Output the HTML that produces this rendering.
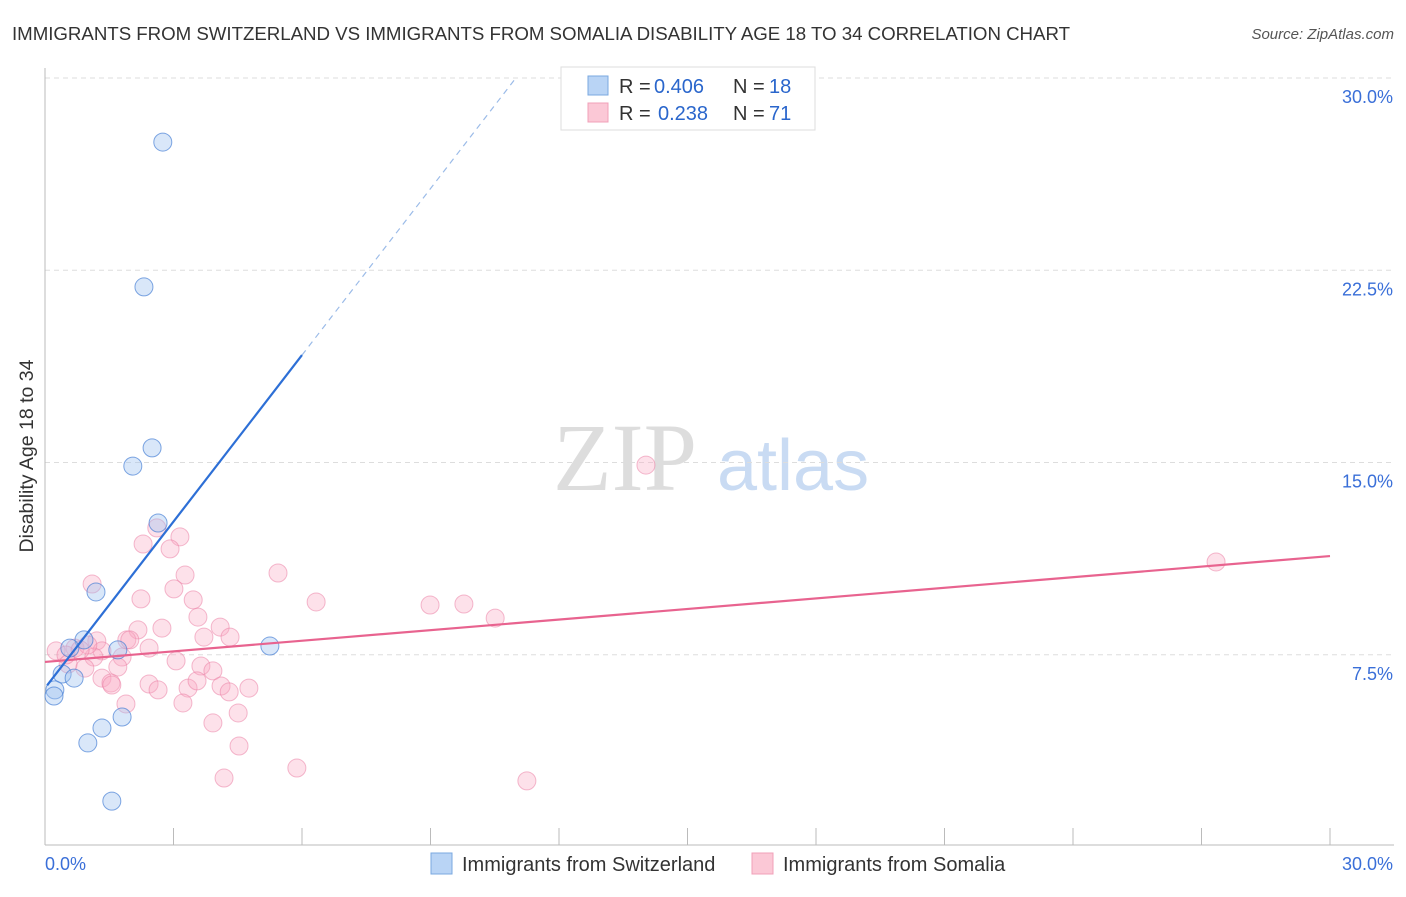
<!DOCTYPE html>
<html><head><meta charset="utf-8"><style>
body{margin:0;background:#fff;font-family:"Liberation Sans",sans-serif}
</style></head><body>
<svg width="1406" height="892" xmlns="http://www.w3.org/2000/svg" id="svg">
<text x="12" y="40" font-size="18.7" fill="#333" textLength="1058">IMMIGRANTS FROM SWITZERLAND VS IMMIGRANTS FROM SOMALIA DISABILITY AGE 18 TO 34 CORRELATION CHART</text>
<text x="1394" y="39" font-size="15" fill="#555" font-style="italic" text-anchor="end">Source: ZipAtlas.com</text>
<text x="33" y="456" font-size="19.5" fill="#333" text-anchor="middle" transform="rotate(-90 33 456)">Disability Age 18 to 34</text>
<g>
<text x="553" y="490" font-size="96" font-family="Liberation Serif,serif" fill="#ddd">ZIP</text>
<text x="717" y="490" font-size="72" fill="#c9dbf3">atlas</text>
</g>
<g id="grid"></g><g id="axes"></g><g id="marks"></g>
<g>
<rect x="561" y="67" width="254" height="63" fill="#fff" stroke="#ddd"/>
<rect x="588" y="76" width="20" height="19" fill="#b9d4f5" stroke="#7aa8e0"/>
<rect x="588" y="103" width="20" height="19" fill="#fbc8d6" stroke="#f0a0b8"/>
<g font-size="20" fill="#333">
<text x="619" y="93">R =</text><text x="654" y="93" fill="#2a66cc">0.406</text><text x="733" y="93">N =</text><text x="769" y="93" fill="#2a66cc">18</text>
<text x="619" y="120">R =</text><text x="658" y="120" fill="#2a66cc">0.238</text><text x="733" y="120">N =</text><text x="769" y="120" fill="#2a66cc">71</text>
</g>
</g>
<g>
<rect x="431" y="853" width="21" height="21" fill="#b9d4f5" stroke="#7aa8e0"/>
<text x="462" y="871" font-size="20" fill="#333">Immigrants from Switzerland</text>
<rect x="752" y="853" width="21" height="21" fill="#fbc8d6" stroke="#f0a0b8"/>
<text x="783" y="871" font-size="20" fill="#333">Immigrants from Somalia</text>
</g>
</svg>
<script>
const yTicks=[7.5,15,22.5,30];
const yTickLabels=["7.5%","15.0%","22.5%","30.0%"];
const xTickCount=[0,3,6,9,12,15,18,21,24,27,30];
const swissX=[2.75,2.31,2.50,2.05,2.64,1.19,0.91,0.58,1.70,5.25,0.40,0.68,0.23,0.21,1.80,1.33,1.00,1.56];
const swissY=[27.5,21.85,15.57,14.86,12.64,9.95,8.08,7.76,7.69,7.84,6.75,6.59,6.13,5.89,5.07,4.64,4.06,1.79];
const somX=[14.03,27.34,5.44,6.33,8.99,9.78,10.51,3.15,2.61,2.29,2.92,3.27,1.10,3.01,3.46,2.24,3.57,2.73,4.09,2.17,3.71,4.32,1.91,1.21,2.43,0.70,0.26,1.33,1.80,3.06,1.14,0.54,1.70,3.64,3.92,0.93,1.33,1.54,2.43,2.64,3.34,3.55,4.11,4.76,4.30,1.89,3.22,4.51,3.92,4.53,5.88,4.18,11.25,1.98,1.00,0.49,1.56,0.82];
const somY=[14.90,11.12,10.69,9.56,9.44,9.48,8.93,12.10,12.45,11.82,11.63,10.61,10.26,10.07,9.64,9.68,8.97,8.54,8.58,8.47,8.19,8.19,8.08,8.04,7.76,7.76,7.65,7.65,7.41,7.26,7.41,7.14,7.02,7.06,6.87,6.98,6.59,6.40,6.36,6.13,6.20,6.48,6.28,6.20,6.05,5.58,5.62,5.23,4.84,3.94,3.08,2.69,2.58,8.08,7.88,7.49,6.32,7.69];
const swissFit=[6.2,2.165];
const somFit=[7.22,0.1377];
const NS="http://www.w3.org/2000/svg";
const X=v=>45+v/30*1285, Y=v=>847-v/30*769;
function mk(t,a,p){const e=document.createElementNS(NS,t);for(const k in a)e.setAttribute(k,a[k]);document.getElementById(p).appendChild(e);return e;}
yTicks.forEach((t,i)=>{
 const g=mk('line',{x1:45,x2:1394,y1:Y(t),y2:Y(t),stroke:'#ddd','stroke-dasharray':'5,4'},'grid');
 
 
 const l=mk('text',{x:1393,y:Y(t)+25,'font-size':18,fill:'#3a6fd8','text-anchor':'end'},'axes');l.textContent=yTickLabels[i];
 
 
});
mk('line',{x1:45,x2:45,y1:68,y2:845,stroke:'#bbb'},'axes');
mk('line',{x1:45,x2:1394,y1:845,y2:845,stroke:'#bbb'},'axes');
xTickCount.forEach(t=>{const e=mk('line',{x1:X(t),x2:X(t),y1:828,y2:845,stroke:'#bbb'},'axes');
 
 });
let a=mk('text',{x:45,y:870,'font-size':18,fill:'#3a6fd8'},'axes');a.textContent='0.0%';


a=mk('text',{x:1393,y:870,'font-size':18,fill:'#3a6fd8','text-anchor':'end'},'axes');a.textContent='30.0%';


somX.forEach((x,i)=>{const c=mk('circle',{cx:X(x),cy:Y(somY[i]),r:9,fill:'rgba(248,170,195,0.35)',stroke:'rgba(235,130,165,0.55)'},'marks');
 
 });
swissX.forEach((x,i)=>{const c=mk('circle',{cx:X(x),cy:Y(swissY[i]),r:9,fill:'rgba(160,195,240,0.4)',stroke:'rgba(60,120,210,0.65)'},'marks');
 
 });
let p=mk('line',{x1:X(0),y1:Y(somFit[0]),x2:X(30),y2:Y(somFit[0]+somFit[1]*30),stroke:'#e8638f','stroke-width':2.2},'marks');


const xe=6.0, xd=(30-swissFit[0])/swissFit[1];
p=mk('line',{x1:X(0.05),y1:Y(swissFit[0]+swissFit[1]*0.05),x2:X(xe),y2:Y(swissFit[0]+swissFit[1]*xe),stroke:'#2d6fd6','stroke-width':2.2},'marks');


p=mk('line',{x1:X(xe),y1:Y(swissFit[0]+swissFit[1]*xe),x2:X(xd),y2:Y(30),stroke:'#9bbbe8','stroke-width':1.2,'stroke-dasharray':'6,5'},'marks');


</script>
</body></html>
